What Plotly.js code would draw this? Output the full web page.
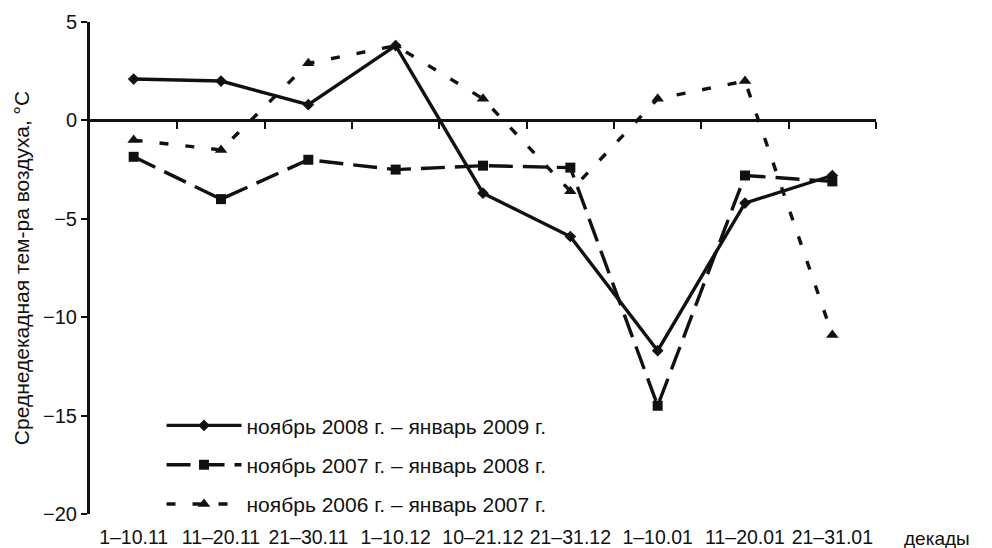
<!DOCTYPE html>
<html>
<head>
<meta charset="utf-8">
<script src="https://cdn.plot.ly/plotly-3.0.1.min.js"></script>
<style>html,body{margin:0;padding:0;background:#fff;}#chart{width:992px;height:548px;}</style>
</head>
<body>
<div id="chart"></div>
<script>
const categories = ["1–10.11","11–20.11","21–30.11","1–10.12","10–21.12","21–31.12","1–10.01","11–20.01","21–31.01"];
const series2008 = [2.1, 2.0, 0.8, 3.8, -3.7, -5.9, -11.7, -4.2, -2.8];
const series2007 = [-1.85, -4.0, -2.0, -2.5, -2.3, -2.4, -14.5, -2.8, -3.1];
const series2006 = [-1.0, -1.5, 2.9, 3.8, 1.1, -3.6, 1.1, 2.0, -10.9];
const names = ["ноябрь 2008 г. – январь 2009 г.", "ноябрь 2007 г. – январь 2008 г.", "ноябрь 2006 г. – январь 2007 г."];
const yTicks = [5, 0, -5, -10, -15, -20];

const idx = categories.map((c, i) => i);
const boundaries = categories.slice(1).map((c, i) => i + 0.5).concat([categories.length - 0.5]);
const col = "#111";

const traces = [
  {x: idx, y: series2008, name: names[0], legendgroup: "a", mode: "lines+markers",
   line: {color: col, width: 3.4, dash: "solid"}, marker: {symbol: "diamond", size: 9, color: col}},
  {x: idx, y: series2007, name: names[1], legendgroup: "b", mode: "lines+markers",
   line: {color: col, width: 3.4, dash: "24px,10px"}, marker: {symbol: "square", size: 10, color: col}},
  {x: idx, y: series2006, name: names[2], legendgroup: "c", mode: "lines+markers",
   line: {color: col, width: 3.4, dash: "9px,17px"}, marker: {symbol: "triangle-up", size: 11, color: col}}
];

const layout = {
  width: 992, height: 548,
  margin: {l: 90, r: 116, t: 22, b: 34},
  paper_bgcolor: "#fff", plot_bgcolor: "#fff",
  font: {family: "Liberation Sans, Arial, sans-serif", size: 20, color: "#111"},
  showlegend: true,
  legend: {x: 0.091, y: 0.221, xanchor: "left", yanchor: "top", bgcolor: "rgba(0,0,0,0)",
           font: {size: 21, color: "#111"}, itemwidth: 75, tracegroupgap: 9, traceorder: "grouped"},
  xaxis: {type: "linear", range: [-0.5, categories.length - 0.5], tickvals: idx, ticktext: categories,
          showline: false, showgrid: false, zeroline: false, ticks: "", tickfont: {size: 19.5},
          ticklabelstandoff: 9},
  xaxis2: {type: "linear", overlaying: "x", anchor: "free", position: 0.8, side: "bottom",
           range: [-0.5, categories.length - 0.5], tickvals: boundaries, showticklabels: false,
           showline: true, linecolor: col, linewidth: 2.5, ticks: "outside", ticklen: 7, tickwidth: 2,
           tickcolor: col, showgrid: false, zeroline: false},
  yaxis: {range: [-20, 5], tickvals: yTicks, showline: true, linecolor: col, linewidth: 3,
          ticks: "outside", ticklen: 6, tickwidth: 2, tickcolor: col, showgrid: false, zeroline: false,
          tickfont: {size: 20},
          title: {text: "Среднедекадная тем-ра воздуха, °С", font: {size: 21}, standoff: 8}},
  annotations: [{text: "декады", xref: "paper", yref: "paper", x: 1.077, y: -0.049,
                 xanchor: "center", yanchor: "middle", showarrow: false, font: {size: 19}}]
};

const axisHelper = {x: [0], y: [0], xaxis: "x2", mode: "markers", marker: {opacity: 0}, showlegend: false, hoverinfo: "skip"};

Plotly.newPlot("chart", traces.concat([axisHelper]), layout, {staticPlot: true});
</script>
</body>
</html>
